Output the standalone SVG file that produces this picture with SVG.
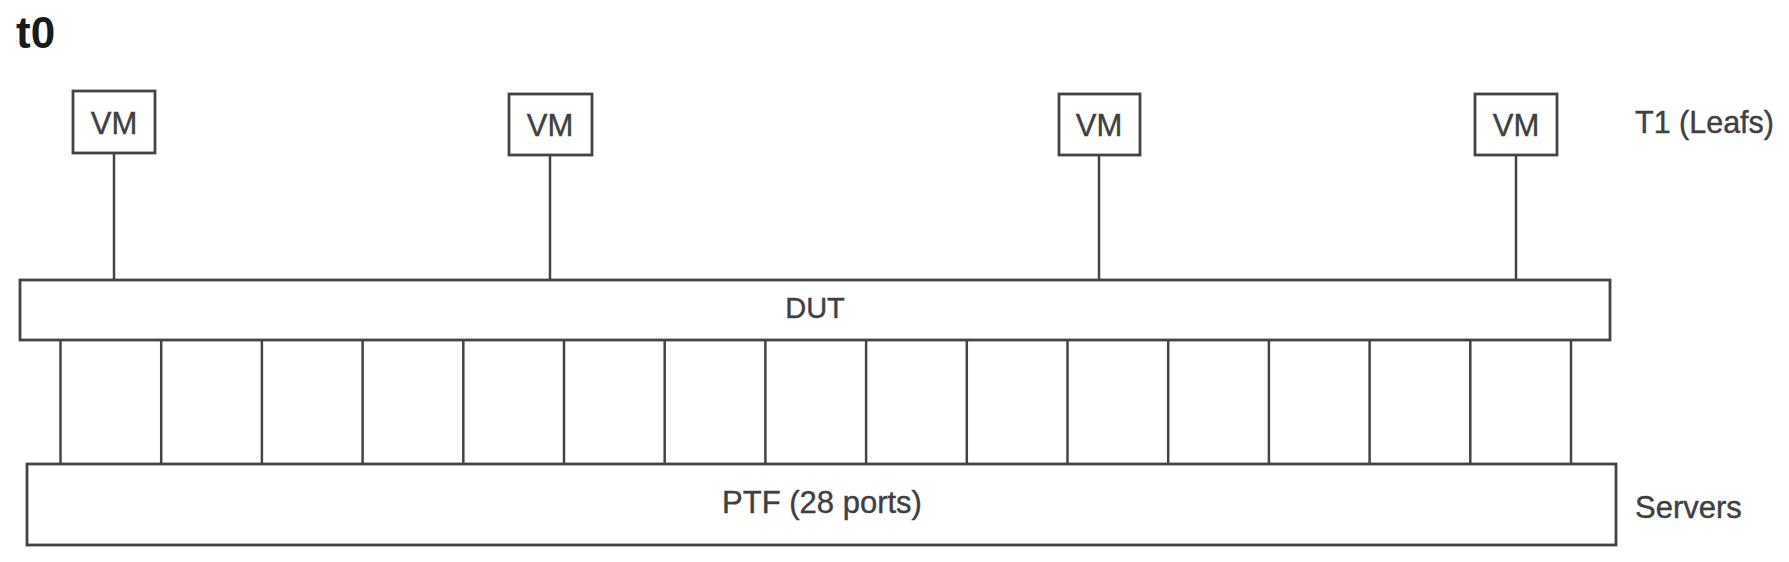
<svg xmlns="http://www.w3.org/2000/svg" width="1789" height="562" viewBox="0 0 1789 562">
<style>
.box{fill:#fff;stroke:#444;stroke-width:2.8}
.ln{stroke:#444;stroke-width:2.5;fill:none}
.t{font-family:"Liberation Sans",Arial,sans-serif;fill:#404040;stroke:#404040;stroke-width:0.4}
.c{text-anchor:middle}
.title{font-family:"Liberation Sans",Arial,sans-serif;font-weight:bold;font-size:44px;fill:#1a1a1a}
</style>
<rect width="1789" height="562" fill="#fff"/>
<text class="title" x="16" y="48">t0</text>
<g id="connectors">
<line class="ln" x1="114" y1="153" x2="114" y2="280"/>
<line class="ln" x1="550" y1="155" x2="550" y2="280"/>
<line class="ln" x1="1099" y1="155" x2="1099" y2="280"/>
<line class="ln" x1="1516" y1="155" x2="1516" y2="280"/>
<line class="ln" x1="60.5" y1="340" x2="60.5" y2="464"/>
<line class="ln" x1="161.2" y1="340" x2="161.2" y2="464"/>
<line class="ln" x1="261.9" y1="340" x2="261.9" y2="464"/>
<line class="ln" x1="362.6" y1="340" x2="362.6" y2="464"/>
<line class="ln" x1="463.3" y1="340" x2="463.3" y2="464"/>
<line class="ln" x1="564" y1="340" x2="564" y2="464"/>
<line class="ln" x1="664.7" y1="340" x2="664.7" y2="464"/>
<line class="ln" x1="765.4" y1="340" x2="765.4" y2="464"/>
<line class="ln" x1="866.1" y1="340" x2="866.1" y2="464"/>
<line class="ln" x1="966.8" y1="340" x2="966.8" y2="464"/>
<line class="ln" x1="1067.5" y1="340" x2="1067.5" y2="464"/>
<line class="ln" x1="1168.2" y1="340" x2="1168.2" y2="464"/>
<line class="ln" x1="1268.9" y1="340" x2="1268.9" y2="464"/>
<line class="ln" x1="1369.6" y1="340" x2="1369.6" y2="464"/>
<line class="ln" x1="1470.3" y1="340" x2="1470.3" y2="464"/>
<line class="ln" x1="1571" y1="340" x2="1571" y2="464"/>
</g>
<g id="vm1">
<rect class="box" x="73" y="91" width="82" height="62"/>
<text class="t c" x="114" y="134" font-size="31">VM</text>
</g>
<g id="vm2">
<rect class="box" x="509" y="94" width="83" height="61"/>
<text class="t c" x="550" y="136" font-size="31">VM</text>
</g>
<g id="vm3">
<rect class="box" x="1059" y="94" width="81" height="61"/>
<text class="t c" x="1099" y="136" font-size="31">VM</text>
</g>
<g id="vm4">
<rect class="box" x="1475" y="94" width="82" height="61"/>
<text class="t c" x="1516" y="136" font-size="31">VM</text>
</g>
<g id="dut">
<rect class="box" x="20" y="280" width="1590" height="60"/>
<text class="t c" x="815" y="318" font-size="29">DUT</text>
</g>
<g id="ptf">
<rect class="box" x="27" y="464" width="1589" height="81"/>
<text class="t c" x="822" y="513" font-size="31">PTF (28 ports)</text>
</g>
<g id="labels">
<text class="t" x="1635" y="133" font-size="30.5">T1 (Leafs)</text>
<text class="t" x="1635" y="518" font-size="31">Servers</text>
</g>
</svg>
